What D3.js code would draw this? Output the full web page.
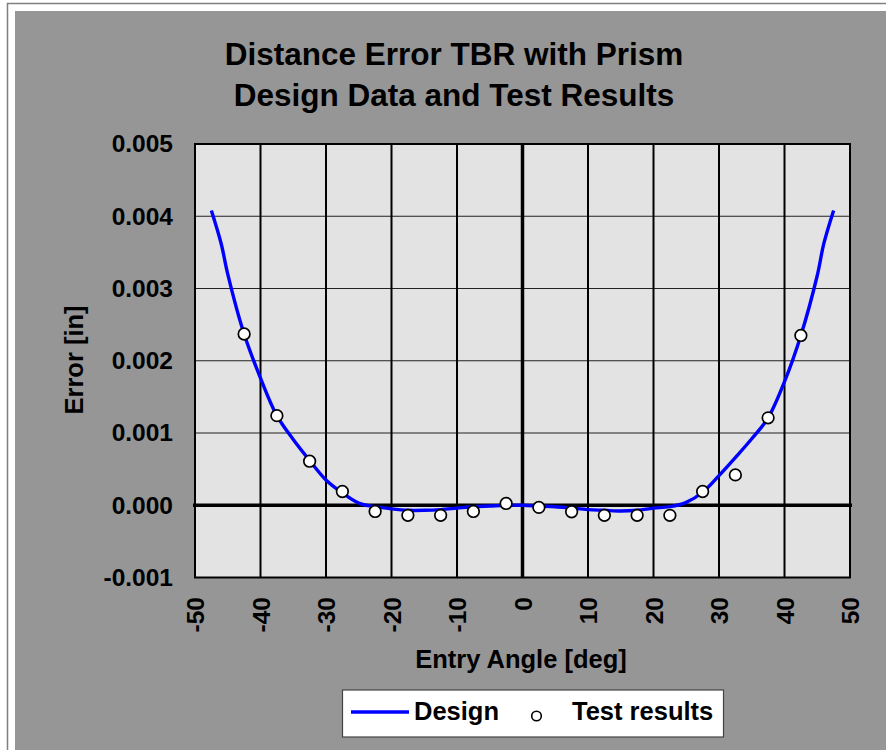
<!DOCTYPE html>
<html><head><meta charset="utf-8">
<script src="https://cdn.jsdelivr.net/npm/d3@7"></script>
<style>
html,body{margin:0;padding:0;background:#fff;}
svg{display:block;font-family:"Liberation Sans",Arial,sans-serif;}
</style></head>
<body>
<svg id="c" width="886" height="750"></svg>
<script>
// ---- data ----
const titleLines = ["Distance Error TBR with Prism", "Design Data and Test Results"];
const xTicks = [-50,-40,-30,-20,-10,0,10,20,30,40,50];
const yTicks = [-0.001,0,0.001,0.002,0.003,0.004,0.005];
const designAngle = [-47.5,-46,-45,-42.5,-40,-37.5,-35,-32.5,-30,-27.5,-25,-22.5,-20,-17.5,-15,-12.5,-10,-7.5,-5,-2.5,0,2.5,5,7.5,10,12.5,15,17.5,20,22.5,25,27.5,30,32.5,35,37.5,40,42.5,45,46,47.5];
const designError = [0.00408,0.00362,0.00320,0.00237,0.00176,0.00124,0.00091,0.00062,0.00035,0.00017,0.00003,-0.00002,-0.00005,-0.00007,-0.00007,-0.00006,-0.00004,-0.00002,-0.00001,0.0,0.0,-0.00001,-0.00002,-0.00004,-0.00006,-0.00007,-0.00008,-0.00007,-0.00004,-0.00002,0.00004,0.00018,0.00041,0.00066,0.00092,0.00121,0.00171,0.00235,0.00318,0.00362,0.00408];
const testAngle = [-42.5,-37.5,-32.5,-27.5,-22.5,-17.5,-12.5,-7.5,-2.5,2.5,7.5,12.5,17.5,22.5,27.5,32.5,37.5,42.5];
const testError = [0.00237,0.00124,0.00061,0.00019,-0.000086,-0.00014,-0.00014,-0.000086,0.000025,-0.00003,-0.00009,-0.00014,-0.00014,-0.00014,0.00019,0.00042,0.00121,0.00235];
const legendLabels = ["Design","Test results"];

// ---- drawing ----
const svg = d3.select("#c");
const L=195, R=850, T=144, B=577.5;
const x = d3.scaleLinear().domain([-50,50]).range([L,R]);
const y = d3.scaleLinear().domain([-0.001,0.005]).range([B,T]);
const hyph = f => (d => f(d).replace("\u2212","-"));

// frame
svg.append("rect").attr("x",7.5).attr("y",3.5).attr("width",886).attr("height",760)
  .attr("fill","#fff").attr("stroke","#808080").attr("stroke-width",1.5);
svg.append("rect").attr("x",15).attr("y",11).attr("width",871).attr("height",739).attr("fill","#969696");

// title
svg.append("g").selectAll("text").data(titleLines).join("text")
  .attr("x",454).attr("y",(d,i)=>65+i*41).attr("text-anchor","middle")
  .attr("font-size",31.5).attr("font-weight","bold").attr("fill","#000").text(d=>d);

// plot bg
svg.append("rect").attr("x",L).attr("y",T).attr("width",R-L).attr("height",B-T).attr("fill","#e3e3e3");

// horizontal gridlines
svg.append("g").selectAll("line").data(yTicks.filter(v=>v!==0 && v!==-0.001 && v!==0.005)).join("line")
  .attr("x1",L).attr("x2",R).attr("y1",d=>y(d)).attr("y2",d=>y(d))
  .attr("stroke","#222").attr("stroke-width",1.2);
// vertical gridlines
svg.append("g").selectAll("line").data(xTicks.filter(v=>v!==0 && Math.abs(v)!==50)).join("line")
  .attr("y1",T).attr("y2",B).attr("x1",d=>x(d)).attr("x2",d=>x(d))
  .attr("stroke","#000").attr("stroke-width",2);

// plot border
svg.append("rect").attr("x",L).attr("y",T).attr("width",R-L).attr("height",B-T)
  .attr("fill","none").attr("stroke","#000").attr("stroke-width",2);

// zero axes
svg.append("line").attr("x1",L-2).attr("x2",R+2).attr("y1",y(0)).attr("y2",y(0)).attr("stroke","#000").attr("stroke-width",3.5);
svg.append("line").attr("x1",x(0)).attr("x2",x(0)).attr("y1",T).attr("y2",B).attr("stroke","#000").attr("stroke-width",3.5);

// y axis labels
const yAxis = d3.axisLeft(y).tickValues(yTicks).tickSize(0).tickPadding(0).tickFormat(hyph(d3.format(".3f")));
const gy = svg.append("g").attr("transform",`translate(173,0)`).call(yAxis);
gy.select(".domain").remove();
gy.selectAll("text").attr("font-size",24.5).attr("font-weight","bold").attr("fill","#000")
  .attr("font-family","Liberation Sans, Arial, sans-serif");

// x axis labels
const xAxis = d3.axisBottom(x).tickValues(xTicks).tickSize(0).tickFormat(hyph(d3.format("d")));
const gx = svg.append("g").attr("transform",`translate(0,597)`).call(xAxis);
gx.select(".domain").remove();
gx.selectAll("text").attr("font-size",24.5).attr("font-weight","bold").attr("fill","#000")
  .attr("font-family","Liberation Sans, Arial, sans-serif")
  .attr("transform","rotate(-90)").attr("text-anchor","end").attr("x",0).attr("y",0).attr("dy","0.35em").attr("dx",0);

// axis titles
svg.append("text").attr("x",521).attr("y",668).attr("text-anchor","middle")
  .attr("font-size",25.5).attr("font-weight","bold").text("Entry Angle [deg]");
svg.append("text").attr("transform","translate(83,360) rotate(-90)").attr("text-anchor","middle")
  .attr("font-size",25.5).attr("font-weight","bold").text("Error [in]");

// design curve
const line = d3.line().x(d=>x(d[0])).y(d=>y(d[1])).curve(d3.curveCatmullRom.alpha(0.5));
svg.append("path").datum(designAngle.map((a,i)=>[a,designError[i]]))
  .attr("d",line).attr("fill","none").attr("stroke","#0000ff").attr("stroke-width",3.4);

// test points
svg.append("g").selectAll("circle").data(testAngle.map((a,i)=>[a,testError[i]])).join("circle")
  .attr("cx",d=>x(d[0])).attr("cy",d=>y(d[1])).attr("r",5.8)
  .attr("fill","#fff").attr("stroke","#000").attr("stroke-width",1.7);

// legend
const lg = svg.append("g");
lg.append("rect").attr("x",342.5).attr("y",690).attr("width",381).attr("height",47)
  .attr("fill","#fff").attr("stroke","#444").attr("stroke-width",1.2);
lg.append("line").attr("x1",351).attr("x2",409).attr("y1",712).attr("y2",712).attr("stroke","#0000ff").attr("stroke-width",3.4);
lg.append("text").attr("x",414).attr("y",720).attr("font-size",25.5).attr("font-weight","bold").text(legendLabels[0]);
lg.append("circle").attr("cx",536.5).attr("cy",716).attr("r",4.8).attr("fill","#fff").attr("stroke","#000").attr("stroke-width",1.6);
lg.append("text").attr("x",572).attr("y",720).attr("font-size",25.5).attr("font-weight","bold").text(legendLabels[1]);
</script>
</body></html>
